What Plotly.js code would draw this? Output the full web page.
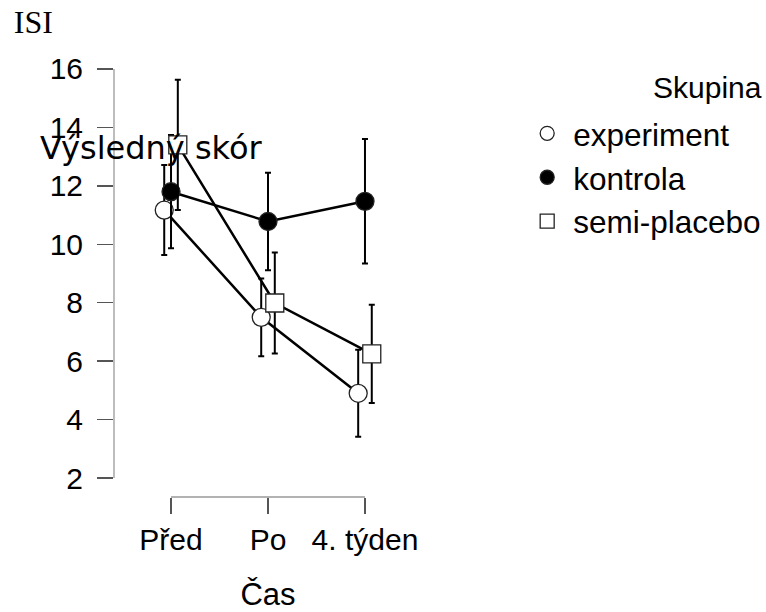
<!DOCTYPE html>
<html><head><meta charset="utf-8">
<script src="https://cdn.plot.ly/plotly-3.0.1.min.js"></script>
<style>html,body{margin:0;padding:0;background:#fff}</style>
</head><body><div id="chart" style="width:766px;height:612px"></div>
<script>
const categories = ["Před", "Po", "4. týden"];
const groups = ["experiment", "kontrola", "semi-placebo"];
const experimentMean = [11.17, 7.5, 4.9];
const experimentErr = [1.54, 1.33, 1.49];
const kontrolaMean = [11.8, 10.78, 11.47];
const kontrolaErr = [1.94, 1.67, 2.13];
const placeboMean = [13.4, 7.99, 6.25];
const placeboErr = [2.23, 1.73, 1.68];
const yTicks = [2, 4, 6, 8, 10, 12, 14, 16];

const means = [experimentMean, kontrolaMean, placeboMean];
const errs = [experimentErr, kontrolaErr, placeboErr];
const offsets = [-0.07, 0, 0.07];
const styles = [
  {symbol: 'circle', color: '#ffffff'},
  {symbol: 'circle', color: '#000000'},
  {symbol: 'square', color: '#ffffff'}
];

const traces = [];
groups.forEach((g, i) => {
  traces.push({
    x: categories.map((c, k) => k + offsets[i]), y: means[i],
    mode: 'lines', line: {color: '#000', width: 2.5},
    showlegend: false, hoverinfo: 'skip'
  });
});
groups.forEach((g, i) => {
  traces.push({
    x: categories.map((c, k) => k + offsets[i]), y: means[i],
    mode: 'markers', name: g, showlegend: false,
    marker: {symbol: styles[i].symbol, size: 18, color: styles[i].color, line: {color: '#222', width: 1.3}},
    error_y: {type: 'data', array: errs[i], visible: true, color: '#000', thickness: 2, width: 3}
  });
});
groups.forEach((g, i) => {
  traces.push({
    x: [null], y: [null], mode: 'markers', name: g,
    marker: {symbol: styles[i].symbol, size: 14, color: styles[i].color, line: {color: '#222', width: 1.3}}
  });
});

const layout = {
  width: 766, height: 612,
  margin: {l: 114, r: 344, t: 50, b: 115, autoexpand: false},
  paper_bgcolor: '#fff', plot_bgcolor: '#fff',
  font: {family: 'Liberation Sans, Arial, sans-serif', size: 30, color: '#000'},
  title: {text: 'ISI', font: {family: 'Liberation Serif, Times New Roman, serif', size: 32, color: '#000'},
    xref: 'container', yref: 'container', x: 0.018, xanchor: 'left', y: 0.964, yanchor: 'middle'},
  xaxis: {range: [-0.588, 2.588], tickmode: 'array', tickvals: categories.map((c, k) => k), ticktext: categories,
    ticks: 'outside', ticklen: 16, tickcolor: '#555', tickwidth: 1.3, showline: false, showgrid: false,
    zeroline: false, automargin: false, ticklabelstandoff: 0,
    title: {text: 'Čas', standoff: 30, font: {size: 31}}},
  yaxis: {range: [1.35, 16.65], tickmode: 'array', tickvals: yTicks, ticks: 'outside', ticklen: 16,
    tickcolor: '#555', tickwidth: 1.3, showline: false, showgrid: false, zeroline: false, automargin: false,
    ticklabelstandoff: 8, title: {text: ''}},
  shapes: [
    {type: 'line', xref: 'paper', yref: 'y', x0: 0, x1: 0, y0: yTicks[0], y1: yTicks[yTicks.length - 1], line: {color: '#999', width: 1.3}},
    {type: 'line', xref: 'x', yref: 'paper', x0: 0, x1: categories.length - 1, y0: 0, y1: 0, line: {color: '#999', width: 1.3}}
  ],
  legend: {x: 1.322, y: 0.874, xanchor: 'left', yanchor: 'top', font: {size: 31.5}, tracegroupgap: 0,
    itemwidth: 42, bgcolor: 'rgba(0,0,0,0)', itemclick: false},
  annotations: [
    {text: 'Skupina', xref: 'paper', yref: 'paper', x: 2.11, y: 0.915, xanchor: 'right', yanchor: 'middle',
      showarrow: false, font: {size: 30}},
    {text: 'Výsledný skór', xref: 'paper', yref: 'paper', x: 0.122, y: 0.781, xanchor: 'center', yanchor: 'middle',
      showarrow: false, font: {family: 'DejaVu Sans, sans-serif', size: 32}}
  ]
};
Plotly.newPlot('chart', traces, layout, {displayModeBar: false, staticPlot: true});
</script></body></html>
